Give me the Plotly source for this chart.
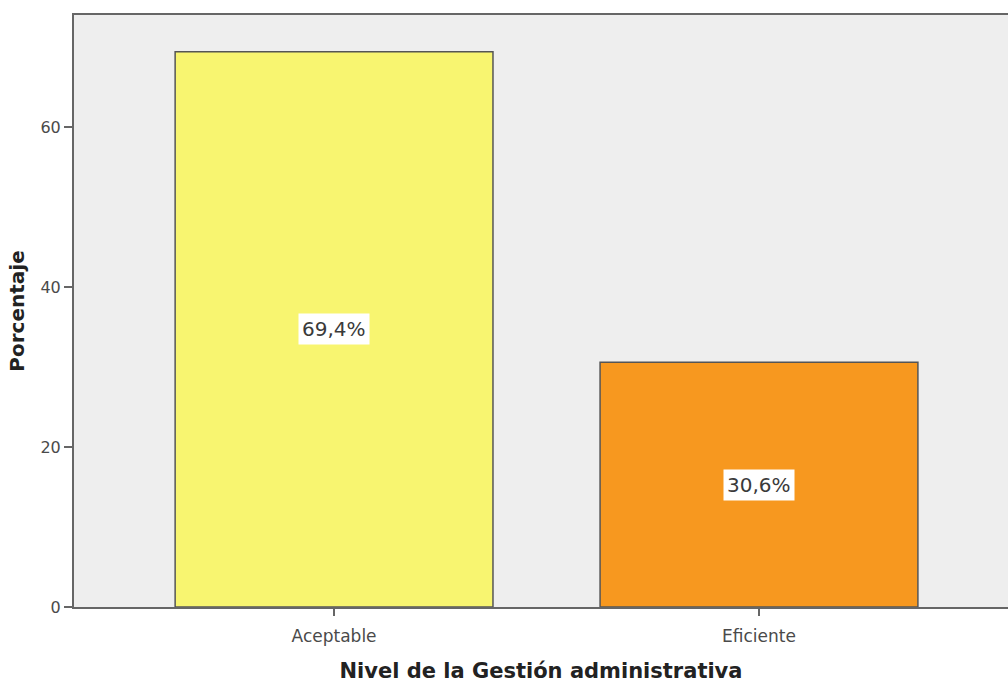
import plotly.graph_objects as go

categorias = ["Aceptable", "Eficiente"]
porcentajes = [69.4, 30.6]
etiquetas = ["69,4%", "30,6%"]
colores = ["#F8F570", "#F7981F"]

FUENTE = "DejaVu Sans"

fig = go.Figure()
fig.add_trace(go.Bar(
    x=[0, 1],
    y=porcentajes,
    width=0.748,
    marker=dict(color=colores, line=dict(color="#555555", width=1.5)),
    hoverinfo="skip",
))

for i, (v, t) in enumerate(zip(porcentajes, etiquetas)):
    fig.add_annotation(
        x=i, y=v / 2, text=t, showarrow=False,
        bgcolor="white", borderpad=3,
        font=dict(family=FUENTE, size=20, color="#3a3a3a"),
    )

fig.update_layout(
    width=1008, height=684,
    margin=dict(l=74, r=0, t=15, b=77),
    paper_bgcolor="white",
    plot_bgcolor="#EEEEEE",
    showlegend=False,
    font=dict(family=FUENTE, color="#444444"),
)
fig.update_xaxes(
    range=[-0.612, 1.586],
    tickmode="array", tickvals=[0, 1], ticktext=categorias,
    ticks="outside", ticklen=7, tickcolor="#666666", tickwidth=1.5,
    ticklabelstandoff=6,
    showline=True, linecolor="#666666", linewidth=2, mirror=True,
    showgrid=False, zeroline=False,
    tickfont=dict(size=17, color="#4a4a4a"),
    title=dict(text="<b>Nivel de la Gestión administrativa</b>", standoff=18,
               font=dict(size=21, color="#222222")),
)
fig.update_yaxes(
    range=[0, 74],
    tickvals=[0, 20, 40, 60],
    ticks="outside", ticklen=8, tickcolor="#666666", tickwidth=1.5,
    showline=True, linecolor="#666666", linewidth=2,
    showgrid=False, zeroline=False,
    tickfont=dict(size=16, color="#4a4a4a"),
    title=dict(text="<b>Porcentaje</b>", standoff=10,
               font=dict(size=20, color="#222222")),
)

fig.write_html("out.html")
